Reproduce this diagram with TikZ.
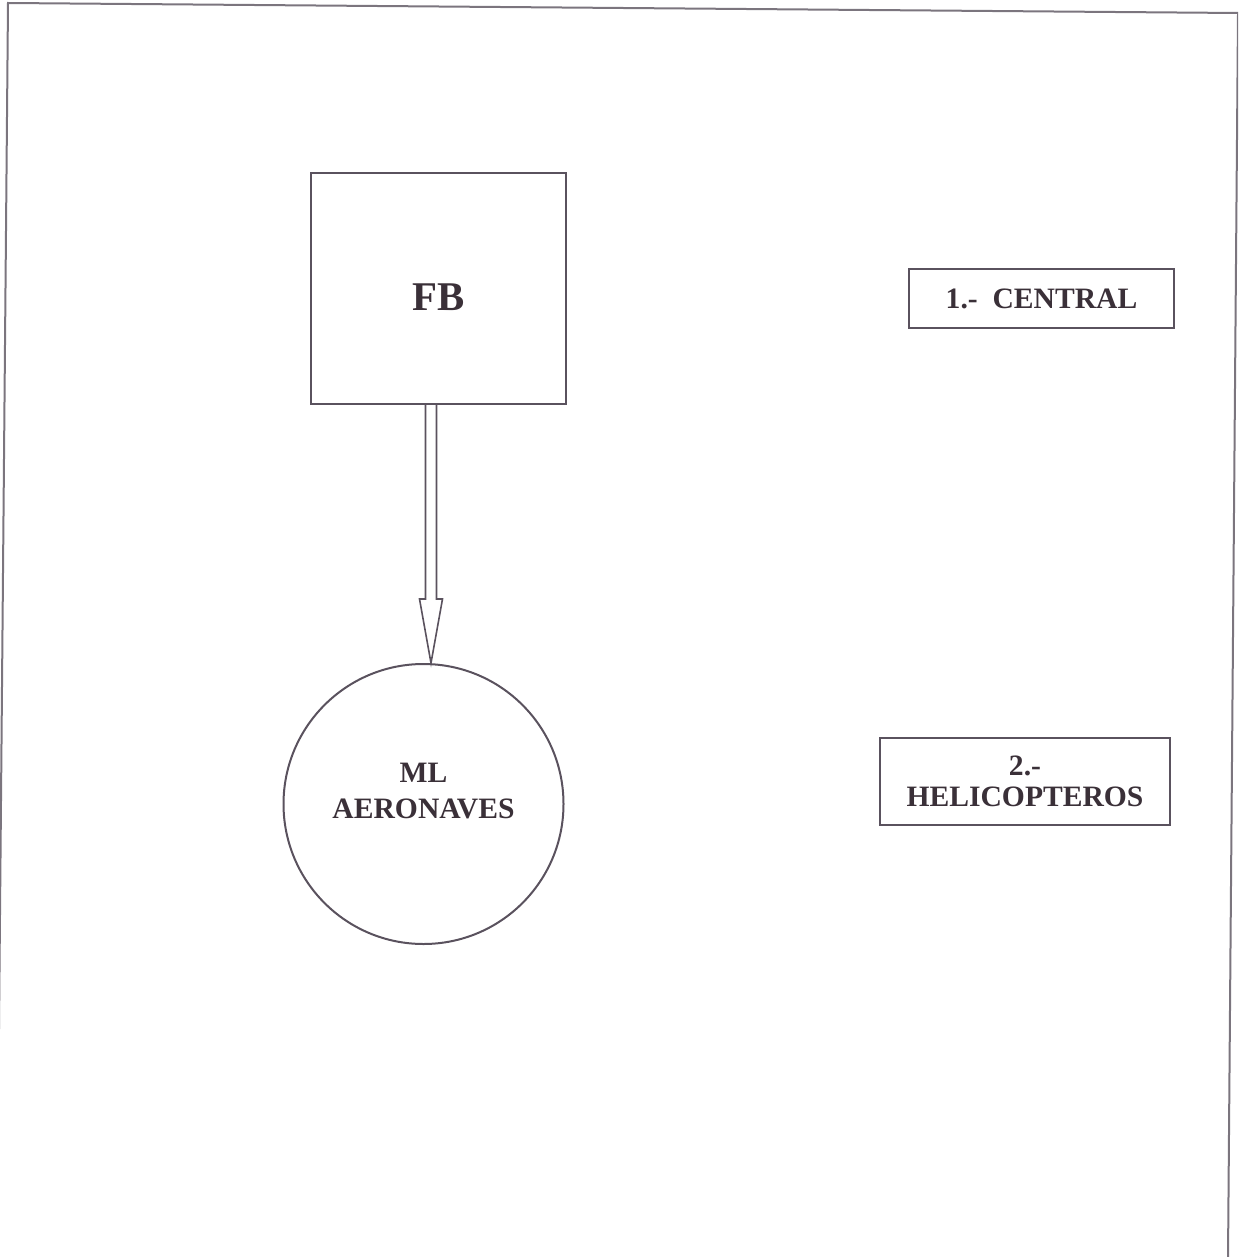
\documentclass[tikz,border=0pt]{standalone}
\usepackage{fontspec}
\setmainfont{Liberation Serif}
\usepackage{xcolor}
\usepackage{tikz}
\usetikzlibrary{calc}

\definecolor{ink}{RGB}{90,82,94}
\definecolor{txt}{RGB}{58,48,56}
\tikzset{
  frameline/.style={draw=ink!80, line width=1pt},
  card/.style={draw=ink, line width=1pt, rectangle, inner sep=0pt, text=txt, align=center,
    font=\bfseries\fontsize{14.8}{15.5}\selectfont},
  disk/.style={draw=ink, line width=1pt, circle, inner sep=0pt, minimum size=140pt},
  flow/.style={draw=ink, line width=0.8pt, line join=miter}
}

\begin{document}
\begin{tikzpicture}[x=0.5pt,y=-0.5pt]
\useasboundingbox (0,0) rectangle (1238,1257);
\begin{scope}
\clip (0,0) rectangle (1238,1257);
\draw[frameline] (-3,1257) -- (8,3) -- (1238,13) -- (1228,1257);
\end{scope}

\node[card, minimum width=127.5pt, minimum height=115.5pt, text height=22pt, text depth=0pt,
  font=\bfseries\fontsize{20.4}{22}\selectfont] (FB) at (438.5,288.5) {FB};
\node[disk, label={[align=center, text=txt, yshift=6.5pt,
  font=\bfseries\fontsize{14.8}{18}\selectfont]center:ML\\AERONAVES}] (ML) at (423.5,804) {};
\node[card, minimum width=132.5pt, minimum height=29.5pt] (central) at (1041.5,298.5) {1.-~~CENTRAL};
\node[card, minimum width=145pt, minimum height=43.5pt] (heli) at (1025,781.5) {2.-\\HELICOPTEROS};

\coordinate (tip) at ([xshift=3.75pt]ML.north);
\coordinate (top) at (FB.south -| tip);
\draw[flow] ([xshift=-2.75pt]top) -- ([shift={(-5.5,-64)}]tip) -- ([shift={(-11.5,-64)}]tip)
  -- (tip) -- ([shift={(11.5,-64)}]tip) -- ([shift={(5.5,-64)}]tip) -- ([xshift=2.75pt]top);
\end{tikzpicture}
\end{document}
